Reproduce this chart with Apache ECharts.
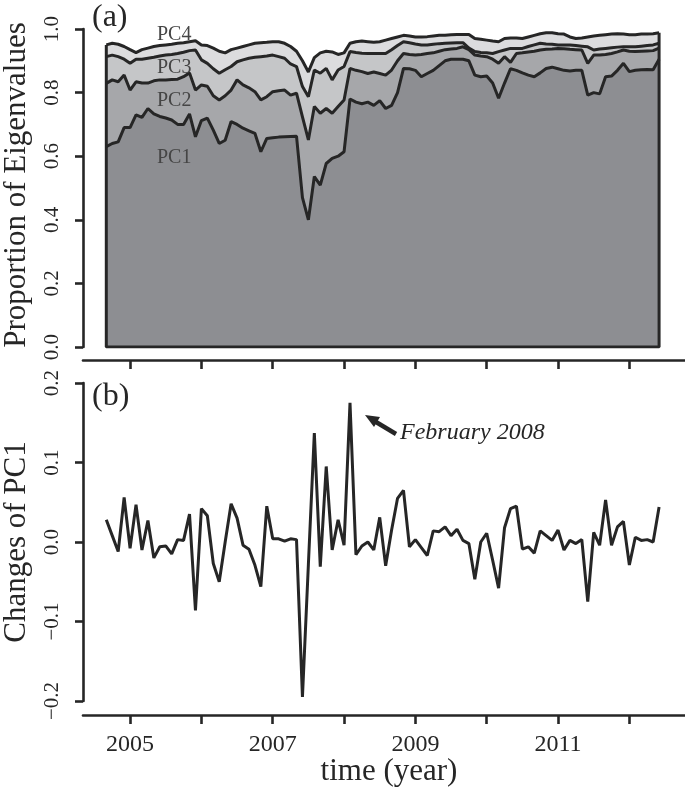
<!DOCTYPE html>
<html>
<head>
<meta charset="utf-8">
<script src="https://cdn.jsdelivr.net/npm/echarts@6/dist/echarts.min.js"></script>
<style>
  html, body { margin: 0; padding: 0; background: #fff; }
  #chart { width: 685px; height: 790px; }
</style>
</head>
<body>
<div id="chart"></div>
<script>
// monthly data, first month Sep 2004
const startYear = 2004;
const startMonth = 9;

// cumulative proportion of eigenvalues (PC1, PC1+PC2, ...)
const cumPC1 = [0.630,0.640,0.645,0.690,0.690,0.730,0.722,0.750,0.733,0.725,
  0.720,0.714,0.700,0.700,0.733,0.661,0.712,0.720,0.682,0.640,
  0.650,0.709,0.700,0.688,0.680,0.672,0.614,0.656,0.658,0.660,
  0.661,0.662,0.663,0.470,0.400,0.536,0.509,0.577,0.593,0.600,
  0.614,0.780,0.770,0.765,0.770,0.760,0.775,0.750,0.760,0.800,
  0.876,0.875,0.870,0.850,0.860,0.870,0.885,0.900,0.905,0.905,
  0.905,0.900,0.855,0.850,0.852,0.830,0.782,0.830,0.875,0.870,
  0.862,0.855,0.850,0.862,0.876,0.880,0.875,0.870,0.868,0.870,
  0.870,0.792,0.800,0.796,0.850,0.852,0.870,0.892,0.866,0.870,
  0.872,0.873,0.872,0.905];
const cumPC2 = [0.829,0.840,0.834,0.855,0.808,0.834,0.830,0.830,0.837,0.840,
  0.840,0.841,0.842,0.850,0.862,0.808,0.824,0.820,0.790,0.777,
  0.790,0.808,0.840,0.824,0.815,0.803,0.777,0.787,0.803,0.806,
  0.808,0.792,0.798,0.724,0.651,0.756,0.735,0.750,0.735,0.756,
  0.777,0.876,0.870,0.866,0.860,0.865,0.860,0.855,0.871,0.900,
  0.923,0.920,0.918,0.920,0.923,0.925,0.930,0.935,0.937,0.939,
  0.944,0.935,0.918,0.915,0.913,0.905,0.892,0.913,0.895,0.923,
  0.925,0.928,0.930,0.934,0.936,0.937,0.939,0.938,0.936,0.935,
  0.934,0.892,0.918,0.918,0.920,0.923,0.928,0.934,0.930,0.929,
  0.930,0.931,0.932,0.940];
const cumPC3 = [0.913,0.918,0.913,0.905,0.892,0.905,0.905,0.908,0.911,0.915,
  0.918,0.920,0.923,0.927,0.932,0.934,0.903,0.892,0.875,0.861,
  0.872,0.882,0.897,0.903,0.908,0.911,0.913,0.915,0.918,0.913,
  0.908,0.890,0.882,0.819,0.787,0.871,0.861,0.876,0.840,0.871,
  0.882,0.929,0.926,0.924,0.923,0.923,0.923,0.923,0.935,0.948,
  0.960,0.957,0.953,0.950,0.950,0.952,0.954,0.955,0.956,0.957,
  0.957,0.940,0.929,0.926,0.925,0.923,0.929,0.934,0.939,0.939,
  0.939,0.945,0.950,0.955,0.953,0.952,0.950,0.950,0.950,0.948,
  0.946,0.944,0.934,0.937,0.939,0.941,0.943,0.944,0.944,0.944,
  0.946,0.948,0.950,0.955];
const cumPC4 = [0.950,0.955,0.952,0.945,0.935,0.926,0.935,0.940,0.945,0.948,
  0.950,0.952,0.955,0.957,0.960,0.963,0.950,0.948,0.940,0.930,
  0.925,0.935,0.940,0.945,0.950,0.955,0.957,0.958,0.960,0.960,
  0.955,0.945,0.930,0.900,0.865,0.910,0.925,0.930,0.928,0.920,
  0.925,0.955,0.960,0.962,0.960,0.958,0.960,0.965,0.970,0.975,
  0.980,0.978,0.975,0.975,0.976,0.978,0.980,0.980,0.982,0.983,
  0.983,0.983,0.970,0.968,0.965,0.962,0.960,0.970,0.972,0.972,
  0.970,0.975,0.980,0.985,0.988,0.988,0.985,0.984,0.975,0.970,
  0.972,0.975,0.978,0.980,0.982,0.984,0.985,0.984,0.982,0.982,
  0.984,0.984,0.985,0.988];

// month-to-month change of PC1
const changePC1 = [0.028,0.008,-0.012,0.056,-0.008,0.047,-0.010,0.027,-0.020,-0.006,
  -0.005,-0.015,0.003,0.002,0.035,-0.086,0.042,0.033,-0.027,-0.050,
  0.000,0.048,0.030,-0.004,-0.009,-0.029,-0.056,0.045,0.004,0.004,
  0.001,0.004,0.003,-0.195,-0.028,0.137,-0.031,0.095,-0.010,0.028,
  -0.004,0.175,-0.016,-0.005,0.000,-0.010,0.031,-0.030,0.015,0.055,
  0.065,-0.006,0.003,-0.007,-0.017,0.014,0.013,0.019,0.008,0.016,
  0.002,-0.002,-0.047,0.000,0.011,-0.023,-0.058,0.018,0.042,0.045,
  -0.009,-0.006,-0.014,0.014,0.008,0.002,0.015,-0.010,0.002,-0.002,
  0.003,-0.075,0.012,-0.004,0.053,-0.004,0.019,0.026,-0.029,0.006,
  0.002,0.003,0.000,0.044];

const yearTicks = [2005, 2006, 2007, 2008, 2009, 2010, 2011, 2012];
const yearLabels = [2005, 2007, 2009, 2011];

const times = cumPC1.map((v, i) => startYear + (startMonth - 1 + i) / 12);
const pairs = arr => arr.map((v, i) => [times[i], v]);
const last = times.length - 1;

const font = 'Liberation Serif';
const ink = '#262626';
const xMin = 2004.34, xMax = 2012.78;

const axisLine = { show: true, onZero: false, lineStyle: { color: ink, width: 2.6 } };
const tickStyle = { color: ink, width: 2.6 };
const minus = v => (v < -1e-9 ? '\u2212' : '') + Math.abs(v).toFixed(1);

function band(name, data, fill) {
  return {
    name: name, type: 'line', xAxisIndex: 0, yAxisIndex: 0,
    data: pairs(data), showSymbol: false, silent: true,
    lineStyle: { color: ink, width: 3 },
    areaStyle: { color: fill, opacity: 1 }
  };
}

function label(text, x, y, extra) {
  return Object.assign({ type: 'text', x: x, y: y, z: 100,
    style: { text: text, fontFamily: font, fontSize: 20, fill: '#454545' } }, extra || {});
}

const chart = echarts.init(document.getElementById('chart'));
chart.setOption({
  animation: false,
  backgroundColor: '#fff',
  grid: [
    { left: 83, right: 0, top: 29, bottom: 443 },
    { left: 83, right: 0, top: 383, bottom: 89 }
  ],
  xAxis: [
    { gridIndex: 0, type: 'value', min: xMin, max: xMax, offset: 13,
      axisLine: axisLine, splitLine: { show: false },
      axisTick: { show: true, customValues: yearTicks, length: 9, lineStyle: tickStyle },
      axisLabel: { show: false } },
    { gridIndex: 1, type: 'value', min: xMin, max: xMax, offset: 14,
      axisLine: axisLine, splitLine: { show: false },
      axisTick: { show: true, customValues: yearTicks, length: 9, lineStyle: tickStyle },
      axisLabel: { customValues: yearLabels, margin: 18, color: ink,
        fontFamily: font, fontSize: 24, formatter: v => String(v) } }
  ],
  yAxis: [
    { gridIndex: 0, type: 'value', min: 0, max: 1, interval: 0.2,
      axisLine: axisLine, splitLine: { show: false },
      axisTick: { show: true, length: 8, lineStyle: tickStyle },
      axisLabel: { rotate: 90, margin: 20, color: ink, fontFamily: font,
        fontSize: 21, formatter: minus } },
    { gridIndex: 1, type: 'value', min: -0.2, max: 0.2, interval: 0.1,
      axisLine: axisLine, splitLine: { show: false },
      axisTick: { show: true, length: 8, lineStyle: tickStyle },
      axisLabel: { rotate: 90, margin: 20, color: ink, fontFamily: font,
        fontSize: 21, formatter: minus } }
  ],
  series: [
    band('PC4', cumPC4, '#dcdcde'),
    band('PC3', cumPC3, '#c5c6c8'),
    band('PC2', cumPC2, '#a6a7aa'),
    band('PC1', cumPC1, '#8d8e92'),
    {
      // outline of the stacked area
      name: 'frame', type: 'line', xAxisIndex: 0, yAxisIndex: 0,
      data: [[times[0], cumPC4[0]], [times[0], 0], [times[last], 0], [times[last], cumPC4[last]]],
      showSymbol: false, silent: true,
      lineStyle: { color: ink, width: 3 }
    },
    {
      name: 'change', type: 'line', xAxisIndex: 1, yAxisIndex: 1,
      data: pairs(changePC1), showSymbol: false, silent: true,
      lineStyle: { color: ink, width: 3 }
    }
  ],
  graphic: [
    label('(a)', 92, 2, { style: { text: '(a)', fontFamily: font, fontSize: 32, fill: ink } }),
    label('(b)', 92, 381, { style: { text: '(b)', fontFamily: font, fontSize: 32, fill: ink } }),
    label('PC4', 157, 25),
    label('PC3', 157, 58),
    label('PC2', 157, 91),
    label('PC1', 157, 148),
    label('', 17, 185, { rotation: Math.PI / 2,
      style: { text: 'Proportion of Eigenvalues', fontFamily: font, fontSize: 31, fill: ink,
        align: 'center', verticalAlign: 'middle' } }),
    label('', 17, 542, { rotation: Math.PI / 2,
      style: { text: 'Changes of PC1', fontFamily: font, fontSize: 31, fill: ink,
        align: 'center', verticalAlign: 'middle' } }),
    label('', 389, 772, {
      style: { text: 'time (year)', fontFamily: font, fontSize: 31, fill: ink,
        align: 'center', verticalAlign: 'middle' } }),
    label('', 400, 433, {
      style: { text: 'February 2008', fontFamily: font, fontStyle: 'italic', fontSize: 24, fill: ink,
        align: 'left', verticalAlign: 'middle' } }),
    { type: 'line', z: 100, shape: { x1: 396, y1: 434, x2: 376, y2: 422 },
      style: { stroke: ink, lineWidth: 4.5 } },
    { type: 'polygon', z: 100, shape: { points: [[365, 415], [380, 417], [374, 427]] },
      style: { fill: ink } }
  ]
});
</script>
</body>
</html>
